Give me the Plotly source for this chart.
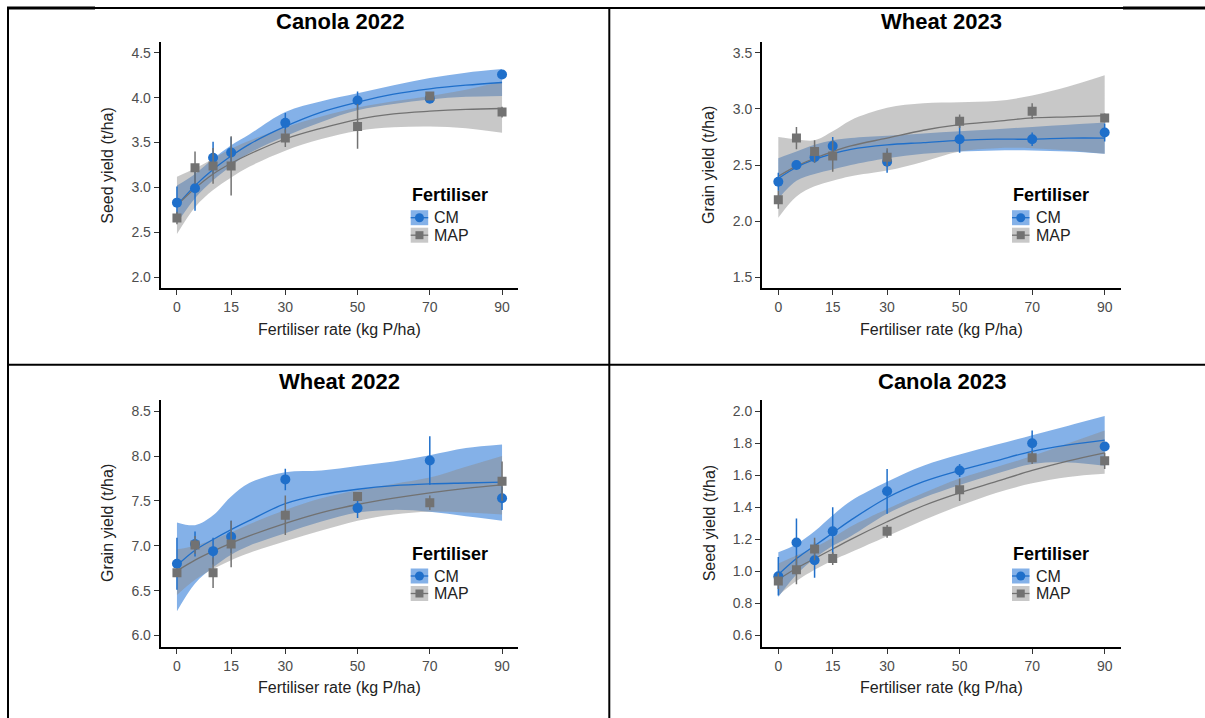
import plotly.graph_objects as go

W, H = 1205, 718

# ---------------- data ----------------
RATES = [0, 5, 10, 15, 30, 50, 70, 90]
FIT_X = [0, 5, 10, 15, 20, 30, 40, 50, 60, 70, 80, 90]
X_TICKS = [0, 15, 30, 50, 70, 90]
SERIES = ["CM", "MAP"]
PANEL_TITLES = ["Canola 2022", "Wheat 2023", "Wheat 2022", "Canola 2023"]
Y_TITLES = ["Seed yield (t/ha)", "Grain yield (t/ha)", "Grain yield (t/ha)", "Seed yield (t/ha)"]
X_TITLE = "Fertiliser rate (kg P/ha)"
LEGEND_TITLE = "Fertiliser"

# Canola 2022
C22_CM_Y = [2.83, 2.99, 3.33, 3.39, 3.72, 3.97, 3.99, 4.26]
C22_CM_ERR = [0.18, 0.25, 0.18, 0.17, 0.11, 0.10, 0.03, 0.03]
C22_MAP_Y = [2.66, 3.22, 3.24, 3.24, 3.55, 3.68, 4.02, 3.84]
C22_MAP_ERR = [0.07, 0.18, 0.20, 0.33, 0.10, 0.25, 0.03, 0.06]
C22_CM_FIT = [2.80, 3.02, 3.20, 3.35, 3.48, 3.68, 3.84, 3.95, 4.04, 4.10, 4.14, 4.17]
C22_CM_LO = [2.60, 2.88, 3.08, 3.24, 3.38, 3.57, 3.73, 3.86, 3.93, 3.98, 4.01, 4.02]
C22_CM_HI = [3.02, 3.15, 3.32, 3.47, 3.59, 3.84, 3.96, 4.05, 4.14, 4.22, 4.28, 4.32]
C22_MAP_FIT = [2.80, 2.99, 3.15, 3.27, 3.37, 3.54, 3.66, 3.76, 3.82, 3.85, 3.87, 3.88]
C22_MAP_LO = [2.48, 2.78, 2.97, 3.11, 3.23, 3.41, 3.54, 3.63, 3.67, 3.68, 3.66, 3.61]
C22_MAP_HI = [3.12, 3.21, 3.32, 3.43, 3.52, 3.67, 3.79, 3.89, 3.96, 4.02, 4.09, 4.18]

# Wheat 2023
W23_CM_Y = [2.35, 2.50, 2.57, 2.67, 2.53, 2.73, 2.73, 2.79]
W23_CM_ERR = [0.08, 0.04, 0.05, 0.08, 0.10, 0.12, 0.06, 0.08]
W23_MAP_Y = [2.19, 2.74, 2.62, 2.58, 2.57, 2.89, 2.98, 2.92]
W23_MAP_ERR = [0.08, 0.10, 0.10, 0.14, 0.08, 0.06, 0.07, 0.04]
W23_CM_FIT = [2.38, 2.48, 2.55, 2.60, 2.64, 2.68, 2.70, 2.72, 2.73, 2.73, 2.74, 2.74]
W23_CM_LO = [2.20, 2.36, 2.42, 2.46, 2.50, 2.56, 2.60, 2.62, 2.63, 2.63, 2.62, 2.60]
W23_CM_HI = [2.56, 2.62, 2.68, 2.72, 2.74, 2.76, 2.78, 2.80, 2.82, 2.84, 2.86, 2.88]
W23_MAP_FIT = [2.40, 2.49, 2.56, 2.62, 2.67, 2.74, 2.81, 2.86, 2.89, 2.92, 2.93, 2.94]
W23_MAP_LO = [2.03, 2.22, 2.31, 2.36, 2.40, 2.45, 2.53, 2.62, 2.65, 2.65, 2.63, 2.60]
W23_MAP_HI = [2.75, 2.73, 2.72, 2.80, 2.90, 3.01, 3.05, 3.06, 3.07, 3.12, 3.20, 3.30]

# Wheat 2022
W22_CM_Y = [6.80, 7.02, 6.94, 7.10, 7.74, 7.42, 7.95, 7.53]
W22_CM_ERR = [0.29, 0.14, 0.15, 0.18, 0.12, 0.11, 0.27, 0.13]
W22_MAP_Y = [6.70, 7.01, 6.70, 7.02, 7.34, 7.55, 7.48, 7.72]
W22_MAP_ERR = [0.04, 0.10, 0.17, 0.26, 0.22, 0.04, 0.08, 0.22]
W22_CM_FIT = [6.78, 6.95, 7.07, 7.18, 7.28, 7.47, 7.57, 7.63, 7.67, 7.69, 7.70, 7.71]
W22_CM_LO = [6.27, 6.58, 6.76, 6.90, 7.00, 7.14, 7.27, 7.37, 7.40, 7.38, 7.33, 7.28]
W22_CM_HI = [7.26, 7.23, 7.34, 7.55, 7.70, 7.82, 7.84, 7.89, 7.94, 8.01, 8.09, 8.13]
W22_MAP_FIT = [6.72, 6.84, 6.94, 7.03, 7.11, 7.25, 7.37, 7.46, 7.53, 7.59, 7.64, 7.68]
W22_MAP_LO = [6.45, 6.62, 6.74, 6.84, 6.92, 7.05, 7.17, 7.28, 7.35, 7.38, 7.37, 7.35]
W22_MAP_HI = [6.96, 7.00, 7.07, 7.15, 7.24, 7.40, 7.53, 7.62, 7.69, 7.76, 7.88, 8.00]

# Canola 2023
C23_CM_Y = [0.97, 1.18, 1.07, 1.25, 1.50, 1.63, 1.80, 1.78]
C23_CM_ERR = [0.12, 0.15, 0.11, 0.15, 0.14, 0.04, 0.08, 0.02]
C23_MAP_Y = [0.94, 1.01, 1.14, 1.08, 1.25, 1.51, 1.71, 1.69]
C23_MAP_ERR = [0.05, 0.09, 0.07, 0.04, 0.04, 0.07, 0.04, 0.05]
C23_CM_FIT = [0.98, 1.08, 1.16, 1.24, 1.32, 1.46, 1.56, 1.63, 1.69, 1.75, 1.79, 1.82]
C23_CM_LO = [0.84, 0.98, 1.08, 1.16, 1.22, 1.36, 1.46, 1.54, 1.61, 1.67, 1.68, 1.66]
C23_CM_HI = [1.12, 1.17, 1.25, 1.35, 1.44, 1.56, 1.66, 1.73, 1.79, 1.85, 1.91, 1.97]
C23_MAP_FIT = [0.95, 1.02, 1.08, 1.14, 1.20, 1.31, 1.41, 1.49, 1.56, 1.63, 1.69, 1.74]
C23_MAP_LO = [0.85, 0.94, 1.01, 1.07, 1.12, 1.22, 1.32, 1.41, 1.49, 1.55, 1.59, 1.61]
C23_MAP_HI = [1.05, 1.10, 1.15, 1.21, 1.28, 1.39, 1.49, 1.58, 1.65, 1.72, 1.80, 1.88]

Y_RANGES = [[1.875, 4.625], [1.4, 3.6], [5.875, 8.625], [0.53, 2.07]]
Y_TICKS = [
    [2.0, 2.5, 3.0, 3.5, 4.0, 4.5],
    [1.5, 2.0, 2.5, 3.0, 3.5],
    [6.0, 6.5, 7.0, 7.5, 8.0, 8.5],
    [0.6, 0.8, 1.0, 1.2, 1.4, 1.6, 1.8, 2.0],
]

PANELS = [
    dict(cm=(C22_CM_Y, C22_CM_ERR, C22_CM_FIT, C22_CM_LO, C22_CM_HI),
         map=(C22_MAP_Y, C22_MAP_ERR, C22_MAP_FIT, C22_MAP_LO, C22_MAP_HI)),
    dict(cm=(W23_CM_Y, W23_CM_ERR, W23_CM_FIT, W23_CM_LO, W23_CM_HI),
         map=(W23_MAP_Y, W23_MAP_ERR, W23_MAP_FIT, W23_MAP_LO, W23_MAP_HI)),
    dict(cm=(W22_CM_Y, W22_CM_ERR, W22_CM_FIT, W22_CM_LO, W22_CM_HI),
         map=(W22_MAP_Y, W22_MAP_ERR, W22_MAP_FIT, W22_MAP_LO, W22_MAP_HI)),
    dict(cm=(C23_CM_Y, C23_CM_ERR, C23_CM_FIT, C23_CM_LO, C23_CM_HI),
         map=(C23_MAP_Y, C23_MAP_ERR, C23_MAP_FIT, C23_MAP_LO, C23_MAP_HI)),
]

# ---------------- styles ----------------
FONT = "Liberation Sans, Arial, Helvetica, sans-serif"
CM_COL = "#1f6fca"
MAP_COL = "#727272"
CM_FILL = "rgba(20,105,210,0.52)"
MAP_FILL = "rgba(140,140,140,0.48)"
COLS = {"CM": CM_COL, "MAP": MAP_COL}
FILLS = {"CM": CM_FILL, "MAP": MAP_FILL}
SYMBOLS = {"CM": "circle", "MAP": "square"}
MSIZE = {"CM": 10, "MAP": 9}

# panel pixel boxes: (left, right, top, bottom)
BOXES = [
    (160.7, 518.3, 41.7, 288.3),
    (762.0, 1121.0, 41.7, 288.3),
    (160.7, 518.3, 400.0, 646.7),
    (762.0, 1121.0, 400.0, 646.7),
]
TITLE_Y = [22, 22, 381, 381]


def px(x):
    return x / W


def py(y):
    return 1 - y / H


fig = go.Figure()
shapes = []
annotations = []

for i, panel in enumerate(PANELS):
    sfx = "" if i == 0 else str(i + 1)
    xa, ya = "x" + sfx, "y" + sfx
    # bands
    for s in SERIES:
        y, err, fit, lo, hi = panel[s.lower()]
        fig.add_trace(go.Scatter(x=FIT_X, y=lo, xaxis=xa, yaxis=ya, mode="lines",
                                 line=dict(width=0, shape="spline", color=FILLS[s]),
                                 showlegend=False, hoverinfo="skip"))
        fig.add_trace(go.Scatter(x=FIT_X, y=hi, xaxis=xa, yaxis=ya, mode="lines",
                                 line=dict(width=0, shape="spline", color=FILLS[s]),
                                 fill="tonexty", fillcolor=FILLS[s],
                                 showlegend=False, hoverinfo="skip"))
    # fit lines
    for s in SERIES:
        y, err, fit, lo, hi = panel[s.lower()]
        fig.add_trace(go.Scatter(x=FIT_X, y=fit, xaxis=xa, yaxis=ya, mode="lines",
                                 line=dict(width=1.3, shape="spline", color=COLS[s]),
                                 showlegend=False, name=s))
    # points with error bars
    for s in SERIES:
        y, err, fit, lo, hi = panel[s.lower()]
        fig.add_trace(go.Scatter(x=RATES, y=y, xaxis=xa, yaxis=ya, mode="markers",
                                 marker=dict(symbol=SYMBOLS[s], size=MSIZE[s], color=COLS[s],
                                             line=dict(width=0)),
                                 error_y=dict(type="data", array=err, visible=True,
                                              color=COLS[s], thickness=1.5, width=0),
                                 showlegend=False, name=s))

    l, r, t, b = BOXES[i]
    axis_common = dict(showline=True, linecolor="black", linewidth=2, mirror=False,
                       ticks="outside", ticklen=5, tickwidth=1.3, tickcolor="#333333",
                       showgrid=False, zeroline=False,
                       tickfont=dict(family=FONT, size=14, color="#4d4d4d"))
    fig.layout["xaxis" + sfx] = dict(axis_common, domain=[px(l), px(r)], range=[-4.5, 94.5],
                                     tickvals=X_TICKS, anchor=ya)
    fig.layout["yaxis" + sfx] = dict(axis_common, domain=[py(b), py(t)], range=Y_RANGES[i],
                                     tickvals=Y_TICKS[i], tickformat=".1f", anchor=xa)

    cx = (l + r) / 2
    # panel title
    annotations.append(dict(text="<b>" + PANEL_TITLES[i] + "</b>", x=px(cx), y=py(TITLE_Y[i]),
                            xref="paper", yref="paper", showarrow=False,
                            font=dict(family=FONT, size=22, color="black"),
                            xanchor="center", yanchor="middle"))
    # x-axis title
    annotations.append(dict(text=X_TITLE, x=px(cx), y=py(b + 41), xref="paper", yref="paper",
                            showarrow=False, font=dict(family=FONT, size=16, color="#222222"),
                            xanchor="center", yanchor="middle"))
    # y-axis title
    annotations.append(dict(text=Y_TITLES[i], x=px(l - 53), y=py((t + b) / 2),
                            xref="paper", yref="paper", showarrow=False, textangle=-90,
                            font=dict(family=FONT, size=16, color="#222222"),
                            xanchor="center", yanchor="middle"))
    # legend (manual)
    lx = l + 250
    annotations.append(dict(text="<b>" + LEGEND_TITLE + "</b>", x=px(lx - 1), y=py(t + 153.5),
                            xref="paper", yref="paper", showarrow=False,
                            font=dict(family=FONT, size=18, color="black"),
                            xanchor="left", yanchor="middle"))
    for k, s in enumerate(SERIES):
        ky0 = t + 168.5 + k * 17.5
        ky1 = ky0 + 15
        kx0, kx1 = lx, lx + 17.5
        kyc = (ky0 + ky1) / 2
        kxc = (kx0 + kx1) / 2
        shapes.append(dict(type="rect", xref="paper", yref="paper", x0=px(kx0), x1=px(kx1),
                           y0=py(ky1), y1=py(ky0), fillcolor=FILLS[s], line=dict(width=0), layer="above"))
        shapes.append(dict(type="line", xref="paper", yref="paper", x0=px(kx0), x1=px(kx1),
                           y0=py(kyc), y1=py(kyc), line=dict(color=COLS[s], width=1.3), layer="above"))
        rad = 4.5 if s == "CM" else 4.0
        shapes.append(dict(type="circle" if s == "CM" else "rect", xref="paper", yref="paper",
                           x0=px(kxc - rad), x1=px(kxc + rad), y0=py(kyc + rad), y1=py(kyc - rad),
                           fillcolor=COLS[s], line=dict(width=0), layer="above"))
        annotations.append(dict(text=s, x=px(kx1 + 4), y=py(kyc), xref="paper", yref="paper",
                                showarrow=False, font=dict(family=FONT, size=16, color="#222222"),
                                xanchor="left", yanchor="middle"))

# table borders
def hline(x0, x1, y, w):
    shapes.append(dict(type="line", xref="paper", yref="paper", x0=px(x0), x1=px(x1),
                       y0=py(y), y1=py(y), line=dict(color="black", width=w), layer="above"))


def vline(x, y0, y1, w):
    shapes.append(dict(type="line", xref="paper", yref="paper", x0=px(x), x1=px(x),
                       y0=py(y0), y1=py(y1), line=dict(color="black", width=w), layer="above"))


hline(7, 1205, 8.0, 2)
hline(7, 95, 8.0, 3)
hline(1123, 1205, 8.0, 3)
vline(8, 7, 718, 2)
vline(609.3, 7, 718, 2)
hline(8, 1205, 364.7, 2)

fig.update_layout(
    width=W, height=H,
    margin=dict(l=0, r=0, t=0, b=0),
    paper_bgcolor="white", plot_bgcolor="rgba(0,0,0,0)",
    showlegend=False,
    shapes=shapes, annotations=annotations,
    font=dict(family=FONT),
)

fig.write_html("out.html",
               config={"displayModeBar": False},
               post_script="document.body.style.margin='0';document.body.style.overflow='hidden';")
